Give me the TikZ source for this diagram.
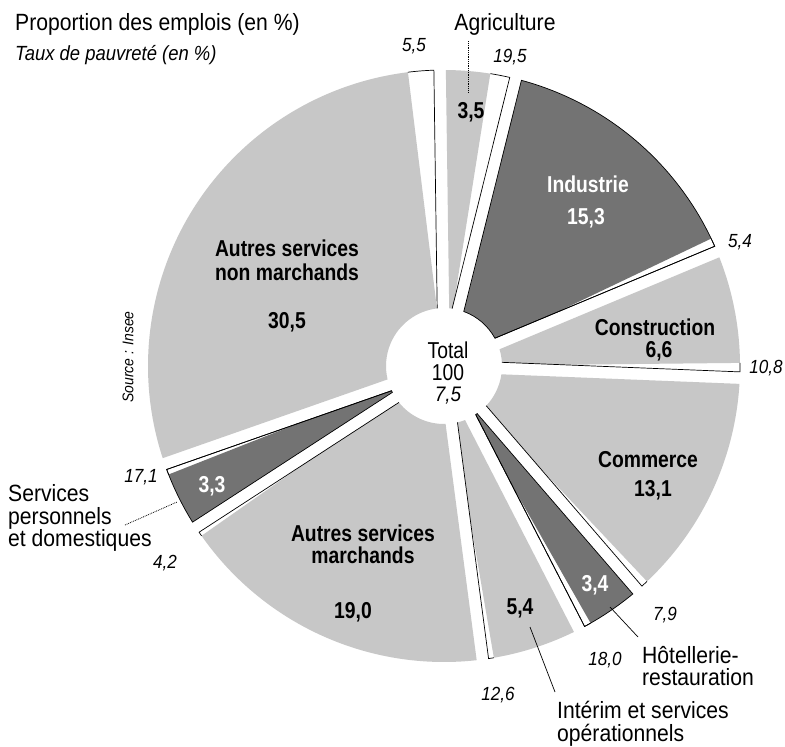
\documentclass[tikz,border=0pt]{standalone}
\usepackage{fontspec}
\setmainfont{Liberation Sans}[FakeStretch=0.9]
\newfontfamily\condfont{Liberation Sans}[FakeStretch=0.84]
\definecolor{lightg}{gray}{0.78}
\definecolor{darkg}{gray}{0.45}
\tikzset{
  lbl/.style={font=\condfont\fontsize{23}{24}\selectfont\bfseries, inner sep=0pt, align=center},
  lblw/.style={lbl, text=white},
  pov/.style={font=\fontsize{19}{22}\selectfont\itshape, inner sep=0pt},
  outer/.style={font=\fontsize{23.5}{22.5}\selectfont, inner sep=0pt, align=left},
  ctr/.style={font=\condfont\fontsize{23}{24}\selectfont, inner sep=0pt},
  sectline/.style={line width=0.7pt, black},
  leadsolid/.style={line width=0.7pt, black},
  leaddot/.style={line width=0.8pt, black, densely dotted},
}
\begin{document}
\begin{tikzpicture}[x=1pt,y=1pt]
\useasboundingbox (0,0) rectangle (785,-747);
\fill[white] (0,0) rectangle (785,-747);
\def\rout{296pt}
\def\rin{58pt}
\def\gap{6}
\pgfmathsetmacro{\dout}{asin(\gap/296)}
\pgfmathsetmacro{\din}{asin(\gap/58)}
\begin{scope}[shift={(444,-366)}]
\foreach \pa/\pb/\ws/\col/\dk in {
  -0.8/14/5/lightg/0,
  14/67.3/2.8/darkg/1,
  67.3/92.3/2.9/lightg/0,
  92.3/139.2/2.5/lightg/0,
  139.2/152.8/2.5/darkg/1,
  152.8/172.5/2.2/lightg/0,
  172.5/237/2.0/lightg/0,
  237/250.7/2.2/darkg/1,
  250.7/359.2/6.2/lightg/0}{
  \pgfmathsetmacro{\ta}{90-(\pa)}
  \pgfmathsetmacro{\tb}{90-(\pb)}
  \pgfmathsetmacro{\ts}{\tb+\ws}
  \pgfmathsetmacro{\aO}{\ta-\dout}
  \pgfmathsetmacro{\bO}{\tb+\dout}
  \pgfmathsetmacro{\aI}{\ta-\din}
  \pgfmathsetmacro{\bI}{\tb+\din}
  \pgfmathsetmacro{\tx}{\ta+3}
  \begin{scope}
    \clip (\aI:\rin) -- (\aO:\rout) arc[start angle=\aO, end angle=\bO, radius=\rout]
      -- (\bI:\rin) arc[start angle=\bI, end angle=\aI, radius=\rin] -- cycle;
    \fill[\col] (0,0) -- (\ts:320pt) arc[start angle=\ts, end angle=\tx, radius=320pt] -- cycle;
  \end{scope}
  \draw[sectline] (\ts:\rout) arc[start angle=\ts, end angle=\bO, radius=\rout] -- (\bI:\rin);
  \ifnum\dk=1
    \draw[sectline] (\aI:\rin) -- (\aO:\rout) arc[start angle=\aO, end angle=\bO, radius=\rout]
      -- (\bI:\rin) arc[start angle=\bI, end angle=\aI, radius=\rin] -- cycle;
  \fi
}
\end{scope}

% titles
\node[outer, anchor=west] (title) at (15,-24) {Proportion des emplois (en \%)};
\node[outer, anchor=west, font=\fontsize{20.5}{22}\selectfont\itshape] (subtitle) at (15,-55) {Taux de pauvreté (en \%)};
\node[font=\fontsize{15.5}{17}\selectfont\itshape, inner sep=0pt, rotate=90] (source) at (128,-357) {Source : Insee};

% centre
\node[ctr] (tot) at (448,-350) {Total};
\node[ctr] (cent) at (448,-373) {100};
\node[ctr, font=\fontsize{21}{24}\selectfont\itshape] (totpov) at (448,-396) {7,5};

% sector labels
\node[lbl] (agrival) at (471,-112) {3,5};
\node[lblw] (ind) at (588,-184) {Industrie};
\node[lblw] (indval) at (586,-218) {15,3};
\node[lbl] (cons) at (655,-327) {Construction};
\node[lbl] (consval) at (659,-351) {6,6};
\node[lbl] (comm) at (648,-460) {Commerce};
\node[lbl] (commval) at (653,-490) {13,1};
\node[lblw] (hotval) at (595,-585) {3,4};
\node[lbl] (intval) at (520,-608) {5,4};
\node[lbl] (am) at (363,-544) {Autres services\\[-2pt]marchands};
\node[lbl] (amval) at (353,-612) {19,0};
\node[lblw] (spval) at (212,-486) {3,3};
\node[lbl] (nm) at (287,-260) {Autres services\\non marchands};
\node[lbl] (nmval) at (287,-322) {30,5};

% poverty rates
\node[pov] (p55) at (414,-46) {5,5};
\node[pov] (p195) at (510,-57) {19,5};
\node[pov] (p54) at (740,-242) {5,4};
\node[pov] (p108) at (766,-368) {10,8};
\node[pov] (p79) at (665,-615) {7,9};
\node[pov] (p180) at (605,-660) {18,0};
\node[pov] (p126) at (498,-695) {12,6};
\node[pov] (p42) at (165,-563) {4,2};
\node[pov] (p171) at (141,-477) {17,1};

% outside labels and leaders
\node[outer] (agri) at (505,-24) {Agriculture};
\coordinate (agriTip) at (468,-93);
\draw[leaddot] ([yshift=-6pt]agriTip |- agri.south) -- (agriTip);

\node[outer, anchor=west] (sp) at (8,-518) {Services\\personnels\\et domestiques};
\coordinate (spA) at (125,-525);
\coordinate (spB) at (177,-502);
\draw[leaddot] (spA) -- (spB);

\node[outer, anchor=west] (hot) at (642,-666) {Hôtellerie-\\restauration};
\coordinate (hotA) at (610,-607);
\coordinate (hotB) at (638,-637);
\draw[leadsolid] (hotA) -- (hotB);

\node[outer, anchor=west] (int) at (557,-724) {Intérim et services\\opérationnels};
\coordinate (intA) at (530,-627);
\coordinate (intB) at (555,-692);
\draw[leadsolid] (intA) -- (intB);
\end{tikzpicture}
\end{document}
